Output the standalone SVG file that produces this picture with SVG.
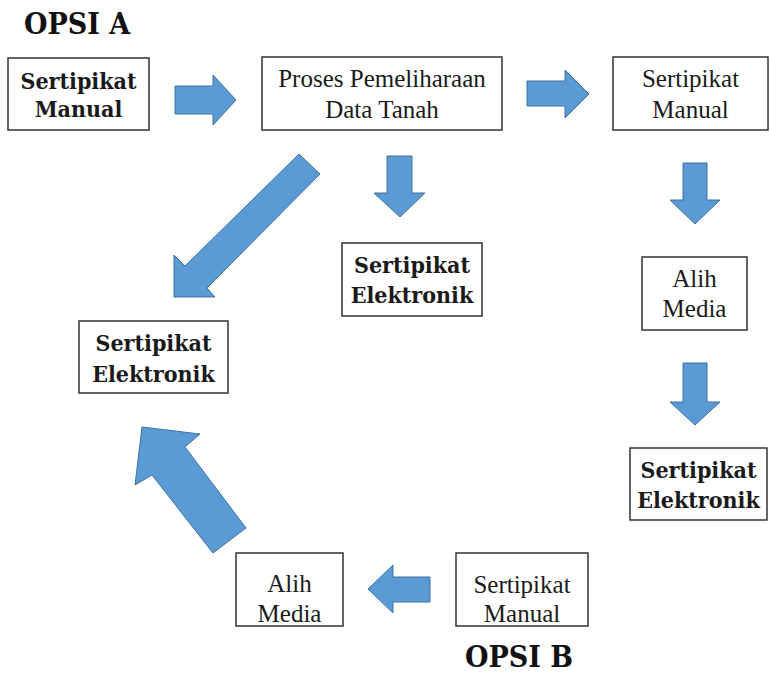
<svg xmlns="http://www.w3.org/2000/svg" width="771" height="675" viewBox="0 0 771 675">
  <style>
    .box { fill: #ffffff; stroke: #333333; stroke-width: 1.5; }
    .t { font-family: "Liberation Serif", "Times New Roman", serif; font-size: 25px; fill: #1a1a1a; text-anchor: middle; }
    .b { font-family: "DejaVu Serif", serif; font-stretch: condensed; font-weight: bold; font-size: 23px; }
    .title { font-family: "DejaVu Serif", serif; font-stretch: condensed; font-size: 30px; font-weight: bold; fill: #111111; }
    .arrow { fill: #5b9bd5; stroke: #41719c; stroke-width: 1; stroke-linejoin: miter; }
  </style>
  <rect width="771" height="675" fill="#ffffff"/>

  <text class="title" x="24" y="34">OPSI A</text>
  <text class="title" x="465" y="667">OPSI B</text>

  <g id="a-manual">
    <rect class="box" x="8" y="58" width="141" height="72"/>
    <text class="t b" x="78.5" y="89">Sertipikat</text>
    <text class="t b" x="78.5" y="117">Manual</text>
  </g>
  <g id="a-proses">
    <rect class="box" x="262" y="57" width="240" height="73"/>
    <text class="t" x="382" y="87">Proses Pemeliharaan</text>
    <text class="t" x="382" y="118">Data Tanah</text>
  </g>
  <g id="a-manual-2">
    <rect class="box" x="613" y="57" width="155" height="73"/>
    <text class="t" x="690.5" y="87">Sertipikat</text>
    <text class="t" x="690.5" y="118">Manual</text>
  </g>
  <g id="a-elektronik-mid">
    <rect class="box" x="342" y="243" width="140" height="73"/>
    <text class="t b" x="412" y="273">Sertipikat</text>
    <text class="t b" x="412" y="303">Elektronik</text>
  </g>
  <g id="elektronik-left">
    <rect class="box" x="79" y="321" width="149" height="72"/>
    <text class="t b" x="153.5" y="351">Sertipikat</text>
    <text class="t b" x="153.5" y="382">Elektronik</text>
  </g>
  <g id="a-alih-media">
    <rect class="box" x="642" y="257" width="105" height="73"/>
    <text class="t" x="694.5" y="287">Alih</text>
    <text class="t" x="694.5" y="317">Media</text>
  </g>
  <g id="a-elektronik-right">
    <rect class="box" x="630" y="448" width="137" height="72"/>
    <text class="t b" x="698.5" y="478">Sertipikat</text>
    <text class="t b" x="698.5" y="508">Elektronik</text>
  </g>
  <g id="b-alih-media">
    <rect class="box" x="236" y="553" width="107" height="73"/>
    <text class="t" x="289.5" y="592">Alih</text>
    <text class="t" x="289.5" y="622">Media</text>
  </g>
  <g id="b-manual">
    <rect class="box" x="456" y="553" width="132" height="73"/>
    <text class="t" x="522" y="593">Sertipikat</text>
    <text class="t" x="522" y="622">Manual</text>
  </g>

  <g id="connectors">
    <polygon class="arrow" points="175,86 213,86 213,75 236,100 213,125 213,114 175,114"/>
    <polygon class="arrow" points="527,81 565,81 565,70 589,94 565,118 565,106 527,106"/>
    <polygon class="arrow" points="387,156 412,156 412,193 425,193 400,217 374,193 387,193"/>
    <polygon class="arrow" points="683,163 707,163 707,200 720,200 695,224 670,200 683,200"/>
    <polygon class="arrow" points="683,363 707,363 707,402 720,402 695,425 670,402 683,402"/>
    <polygon class="arrow" points="430,577 430,602 393,602 393,613 368,589 393,565 393,577"/>
    <polygon class="arrow" points="299,154 320,174 207,288 215,297 174,297 174,255 185,266"/>
    <polygon class="arrow" points="142,427 200,434 185,447 246,528 213,553 152,475 135,485"/>
  </g>
</svg>
